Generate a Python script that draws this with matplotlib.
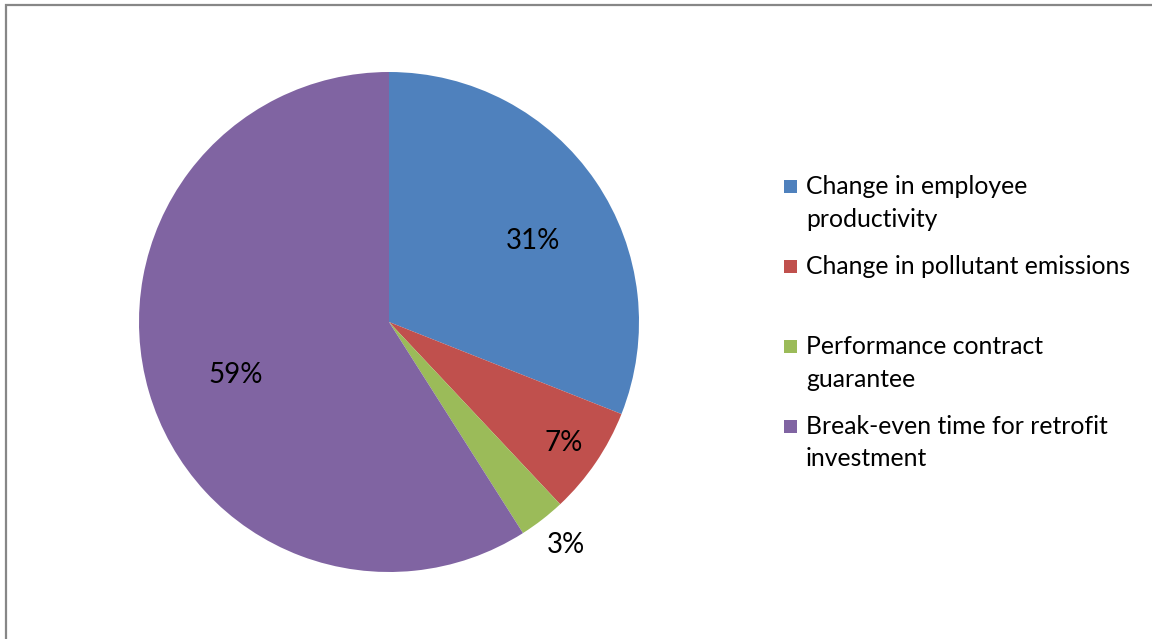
import matplotlib.pyplot as plt
from matplotlib.patches import Rectangle
import numpy as np

labels = ['Change in employee\nproductivity',
          'Change in pollutant emissions',
          'Performance contract\nguarantee',
          'Break-even time for retrofit\ninvestment']
shares = [31, 7, 3, 59]
colors = ['#4F81BD', '#C0504D', '#9BBB59', '#8064A2']

plt.rcParams['font.family'] = ['Lato', 'DejaVu Sans']

W, H = 1152, 639
fig = plt.figure(figsize=(W / 100, H / 100), dpi=100)

# outer chart frame (only top/left edges fall inside the image)
fig.patches.append(Rectangle((6 / W, -0.05), 1.2, (H - 5) / H + 0.05,
                             transform=fig.transFigure, fill=False,
                             edgecolor='#878787', linewidth=1.6))

ax = fig.add_axes([139 / W, 67 / H, 500 / W, 500 / H])
wedges, _ = ax.pie(shares, colors=colors, startangle=90, counterclock=False,
                   radius=1.0, wedgeprops=dict(linewidth=0))
ax.set_xlim(-1, 1)
ax.set_ylim(-1, 1)
ax.set_aspect('equal')
ax.axis('off')

# percentage labels, placed along each wedge's bisector
label_r = [0.665, 0.846, 1.13, 0.645]
label_shift = [-4.2, 0, 1, 2]
for w, s, r, d in zip(wedges, shares, label_r, label_shift):
    a = np.deg2rad((w.theta1 + w.theta2) / 2 + d)
    ax.text(r * np.cos(a), r * np.sin(a) - 0.01, f'{s}%', ha='center',
            va='center', fontsize=20, color='black')

# legend
x_box, x_txt = 784 / W, 806 / W
y0, step = 180 / H, 80 / H
for i, (lab, c) in enumerate(zip(labels, colors)):
    y = 1 - y0 - i * step
    fig.patches.append(Rectangle((x_box, y - 13 / H), 13 / W, 13 / H,
                                 transform=fig.transFigure, facecolor=c,
                                 edgecolor='none'))
    fig.text(x_txt, y + 5 / H, lab, ha='left', va='top', fontsize=17.8,
             linespacing=1.5, color='black')

fig.savefig('out.png', dpi=100)
